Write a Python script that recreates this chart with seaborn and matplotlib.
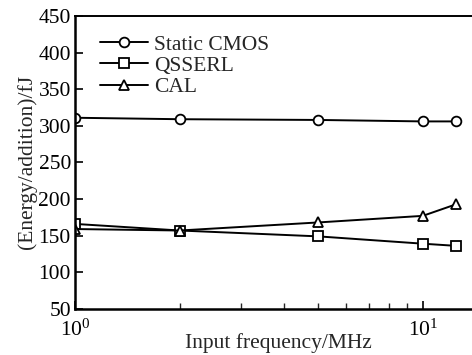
import matplotlib
matplotlib.use("Agg")
import matplotlib.pyplot as plt
import seaborn as sns
import pandas as pd
from matplotlib.lines import Line2D

freq = [1, 2, 5, 10, 12.5]
static_cmos = [311, 309, 308, 306, 306]
qsserl = [166, 157, 149, 139, 136]
cal = [159, 157, 168, 177, 193]
series_names = ["Static CMOS", "QSSERL", "CAL"]

sns.set_theme(style="white")
plt.rcParams['font.family'] = ['Liberation Serif', 'DejaVu Serif']
plt.rcParams['mathtext.fontset'] = 'custom'
plt.rcParams['mathtext.rm'] = 'Liberation Serif'
plt.rcParams['mathtext.it'] = 'Liberation Serif:italic'

df = pd.concat([
    pd.DataFrame({"freq": freq, "energy": v, "series": n})
    for n, v in zip(series_names, [static_cmos, qsserl, cal])
])

fig = plt.figure(figsize=(4.72, 3.55), dpi=100)
ax = fig.add_axes([0.159, 0.13, 0.86, 0.825])

markers = {"Static CMOS": "o", "QSSERL": "s", "CAL": "^"}
sns.lineplot(data=df, x="freq", y="energy", style="series", markers=markers,
             dashes=False, color="black", ax=ax, linewidth=1.4,
             markersize=7, markerfacecolor="white", markeredgecolor="black",
             markeredgewidth=1.3, legend=False)

ax.set_xscale("log")
ax.set_xlim(1, 14.7)
ax.set_ylim(50, 450)
ax.set_yticks(range(50, 451, 50))

handles = [Line2D([], [], color="black", lw=1.4, marker=markers[n], markersize=7,
                  markerfacecolor="white", markeredgecolor="black", markeredgewidth=1.3)
           for n in series_names]
ax.legend(handles, series_names, loc="upper left", frameon=False, fontsize=15.5,
          handlelength=2.2, handletextpad=0.3, labelspacing=0.05,
          bbox_to_anchor=(0.03, 0.98), borderaxespad=0.2)

ax.set_xlabel("Input frequency/MHz", fontsize=15.5, labelpad=-5)
ax.set_ylabel("(Energy/addition)/fJ", fontsize=15.5, labelpad=1)
ax.tick_params(axis="both", which="major", direction="in", length=6, width=1.2,
               labelsize=15.5, colors="black", pad=3)
ax.tick_params(axis="x", which="minor", direction="in", length=4, width=1.0)
ax.tick_params(axis="x", which="major", pad=7.5)
ax.tick_params(left=True, bottom=True, which="both")
ax.tick_params(axis="y", which="minor", left=False)
for s in ["left", "bottom"]:
    ax.spines[s].set_linewidth(1.8)
    ax.spines[s].set_color("black")
ax.spines["top"].set_linewidth(1.4)
ax.spines["top"].set_color("black")
ax.spines["right"].set_visible(False)

fig.savefig("out.png", dpi=100)
